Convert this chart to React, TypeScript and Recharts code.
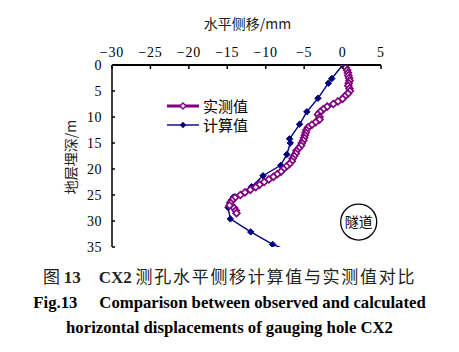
import React from 'react';
import { LineChart, Line, XAxis, YAxis, ReferenceDot } from 'recharts';

// 实测值：深度 / 水平侧移
const measuredDepth = [
  0, 0.5, 1, 1.5, 2, 2.5, 3, 3.5, 4, 4.5, 5, 5.5, 6, 6.5, 7, 7.5, 8, 8.5, 9, 9.5,
  10, 10.5, 11, 11.5, 12, 12.5, 13, 13.5, 14, 14.5, 15, 15.5, 16, 16.5, 17, 17.5,
  18, 18.5, 19, 19.5, 20, 20.5, 21, 21.5, 22, 22.5, 23, 23.5, 24, 24.5, 25, 25.5,
  26, 26.5, 27, 27.5, 28, 28.5,
];
const measuredDisp = [
  0.1, 0.4, 0.6, 0.7, 0.75, 0.85, 0.9, 0.8, 0.75, 0.9, 0.95, 0.7, 0.3, 0.0, -0.6, -1.2,
  -2.0, -2.5, -2.9, -3.2, -3.0, -3.0, -3.5, -4.0, -4.5, -4.7, -4.8, -4.9, -5.0, -5.1,
  -5.3, -5.4, -5.7, -6.0, -6.1, -6.3, -6.5, -6.6, -6.9, -7.3, -7.7, -8.0, -8.5, -9.0,
  -9.6, -10.2, -10.8, -11.3, -12.0, -12.7, -13.3, -14.0, -14.4, -14.6, -14.7, -14.1,
  -13.9, -13.8,
];

// 计算值
const calcDepth = [0, 2.6, 3.5, 6.4, 9.0, 11.4, 14.2, 15.0, 17.2, 19.3, 21.3, 23.4, 25.4, 27.4, 29.6, 32.1, 34.5, 35.8];
const calcDisp = [0, -1.4, -1.85, -3.2, -4.65, -5.6, -6.9, -6.8, -7.25, -8.05, -10.35, -11.85, -14.2, -14.9, -14.6, -11.95, -9.1, -6.9];

const xTicks = [-30, -25, -20, -15, -10, -5, 0, 5];
const yTicks = [0, 5, 10, 15, 20, 25, 30, 35];

const measured = measuredDepth.map((d, i) => ({ depth: d, disp: measuredDisp[i] }));
const calculated = calcDepth.map((d, i) => ({ depth: d, disp: calcDisp[i] }));

const serif = '"Liberation Serif", "Times New Roman", serif';
const cjk = '"Noto Sans CJK SC", sans-serif';

const diamond = (cx: number, cy: number, r: number) =>
  `M${cx},${cy - r}L${cx + r},${cy}L${cx},${cy + r}L${cx - r},${cy}Z`;

const HollowDot = (props: any) => {
  const { cx, cy, index } = props;
  if (cx == null || cy == null) return <g key={index} />;
  return <path key={index} d={diamond(cx, cy, 3.4)} fill="#fff" stroke="#800080" strokeWidth={1.7} />;
};

const FilledDot = (props: any) => {
  const { cx, cy, index } = props;
  if (cx == null || cy == null || index === calculated.length - 1) return <g key={index} />;
  return <path key={index} d={diamond(cx, cy, 3.2)} fill="#000080" stroke="#000080" />;
};

const fmt = (v: number) => (v < 0 ? `\u2212${Math.abs(v)}` : `${v}`);

const TopTick = (props: any) => {
  const { x, y, payload } = props;
  return (
    <g>
      <line x1={x} y1={y} x2={x} y2={y + 4} stroke="#000" strokeWidth={1.5} />
      <text x={x} y={y - 8} textAnchor="middle" fontSize={14} letterSpacing={0.8} fontFamily={serif} fill="#000">
        {fmt(payload.value)}
      </text>
    </g>
  );
};

const LeftTick = (props: any) => {
  const { x, y, payload } = props;
  return (
    <g>
      <line x1={x} y1={y} x2={x + 3} y2={y} stroke="#000" strokeWidth={1.5} />
      <text x={x - 10} y={y + 4.5} textAnchor="end" fontSize={14} letterSpacing={0.5} fontFamily={serif} fill="#000">
        {payload.value}
      </text>
    </g>
  );
};

const LegendBox = () => (
  <svg width={100} height={40} style={{ position: 'absolute', left: 160, top: 96 }}>
    <line x1={7} y1={10} x2={39} y2={10} stroke="#800080" strokeWidth={3} />
    <path d={diamond(23, 10, 3)} fill="#fff" stroke="#800080" strokeWidth={1.4} />
    <text x={43} y={15.5} fontSize={15} fontFamily={cjk} fill="#000">实测值</text>
    <line x1={7} y1={29} x2={39} y2={29} stroke="#000080" strokeWidth={1.4} />
    <path d={diamond(23, 29, 3.2)} fill="#000080" />
    <text x={43} y={34.5} fontSize={15} fontFamily={cjk} fill="#000">计算值</text>
  </svg>
);

export default function App() {
  return (
    <div style={{ position: 'absolute', left: 0, top: 0, width: 459, height: 352, background: '#fff' }}>
      <div style={{ position: 'absolute', left: 0, top: 14, width: 459, paddingLeft: 36, boxSizing: 'border-box', textAlign: 'center', fontFamily: cjk, fontSize: 14, lineHeight: '18px', color: '#222' }}>
        水平侧移/mm
      </div>
      <div style={{ position: 'absolute', left: 70, top: 157, transform: 'translate(-50%, -50%) rotate(-90deg)', whiteSpace: 'nowrap', fontFamily: cjk, fontSize: 14, color: '#222' }}>
        地层埋深/m
      </div>
      <LineChart width={459} height={352} margin={{ top: 45, right: 78, bottom: 105, left: 82 }}>
        <XAxis
          type="number"
          dataKey="disp"
          orientation="top"
          domain={[-30, 5]}
          ticks={xTicks}
          interval={0}
          axisLine={{ stroke: '#000', strokeWidth: 2 }}
          tickLine={false}
          tickSize={0}
          tickMargin={0}
          tick={<TopTick />}
          height={20}
        />
        <YAxis
          type="number"
          dataKey="depth"
          reversed
          domain={[0, 35]}
          allowDataOverflow
          ticks={yTicks}
          interval={0}
          axisLine={{ stroke: '#000', strokeWidth: 1.5 }}
          tickLine={false}
          tickSize={0}
          tickMargin={0}
          tick={<LeftTick />}
          width={30}
        />
        <Line
          data={calculated}
          dataKey="depth"
          name="计算值"
          stroke="#000080"
          strokeWidth={1.4}
          dot={FilledDot}
          isAnimationActive={false}
        />
        <Line
          data={measured}
          dataKey="depth"
          name="实测值"
          stroke="#800080"
          strokeWidth={3.5}
          dot={HollowDot}
          isAnimationActive={false}
        />
        <ReferenceDot
          x={2.1}
          y={30.2}
          r={18}
          fill="#fff"
          stroke="#000"
          strokeWidth={1.3}
          label={{ value: '隧道', position: 'center', fontSize: 14, fontFamily: cjk, fill: '#000' }}
        />
      </LineChart>
      <LegendBox />
      <div style={{ position: 'absolute', left: 0, top: 264, width: 459, textAlign: 'center', fontSize: 17, lineHeight: '24px', color: '#222', fontFamily: cjk }}>
        图 <b style={{ fontFamily: serif }}>13</b>
        <span style={{ display: 'inline-block', width: 18 }} />
        <b style={{ fontFamily: serif }}>CX2</b>{' '}
        <span style={{ letterSpacing: 1.7 }}>测孔水平侧移计算值与实测值对比</span>
      </div>
      <div style={{ position: 'absolute', left: 0, top: 290, width: 459, textAlign: 'center', fontFamily: serif, fontWeight: 'bold', fontSize: 16.7, lineHeight: '25px', color: '#000' }}>
        Fig.13<span style={{ display: 'inline-block', width: 22 }} />Comparison between observed and calculated
        <br />
        horizontal displacements of gauging hole CX2
      </div>
    </div>
  );
}
